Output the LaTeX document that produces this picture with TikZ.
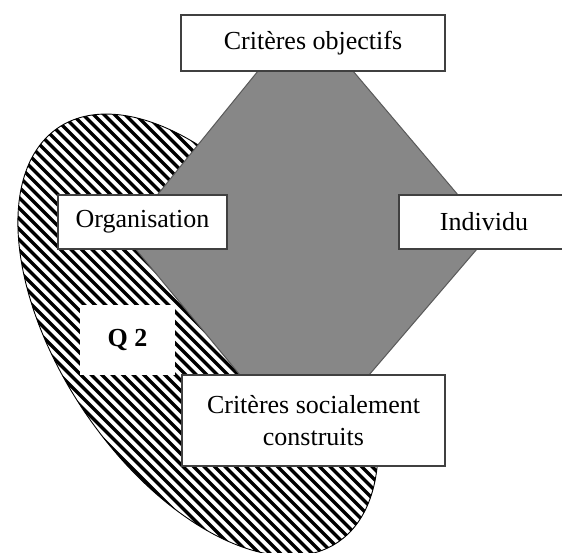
\documentclass[tikz,border=0pt]{standalone}
\usepackage{fontspec}
\setmainfont{Liberation Serif}
\tikzset{
  box/.style={draw=black!75, line width=1.3pt, fill=white, inner sep=0pt, align=center,
    font=\fontsize{26}{32}\selectfont},
  stripe/.style={line width=3.4pt, black},
  outline/.style={draw=black, line width=0.9pt},
  greyshape/.style={fill=black!47, draw=black!65, line width=1pt}
}
\newcommand{\ellpath}{plot[domain=0:360, samples=150, smooth]
  ({198+250*cos(\x)*cos(56)-137*sin(\x)*sin(56)},
   {335+250*cos(\x)*sin(56)+137*sin(\x)*cos(56)}) -- cycle}
\begin{document}
\begin{tikzpicture}[x=1pt,y=-1pt]
\useasboundingbox (0,0) rectangle (562,552);
% hatched ellipse
\begin{scope}
  \clip \ellpath;
  \fill[white] (0,0) rectangle (562,600);
  \foreach \i in {-60,...,60} {
    \draw[stripe] (\i*10.5,0) -- ++(650,650);
  }
\end{scope}
\draw[outline] \ellpath;
% grey shape
\draw[greyshape] (258,71) -- (353,71) -- (475,215) -- (489,235) -- (369,375)
  -- (240,375) -- (124,235) -- (141,215) -- cycle;
% Q2 white area
\node[fill=white, inner sep=0pt, minimum width=95pt, minimum height=70pt,
  font=\fontsize{26}{30}\selectfont\bfseries] (q2) at (127.5,340) {Q 2};
% boxes
\node[box, minimum width=264pt, minimum height=56pt] (obj) at (313,43) {Critères objectifs};
\node[box, minimum width=169pt, minimum height=54pt] (org) at (142.5,222) {Organisation};
\node[box, minimum width=170pt, minimum height=54pt] (ind) at (484,222) {Individu};
\node[box, minimum width=263pt, minimum height=91pt] (soc) at (313.5,420.5)
  {Critères socialement\\construits};
\end{tikzpicture}
\end{document}
